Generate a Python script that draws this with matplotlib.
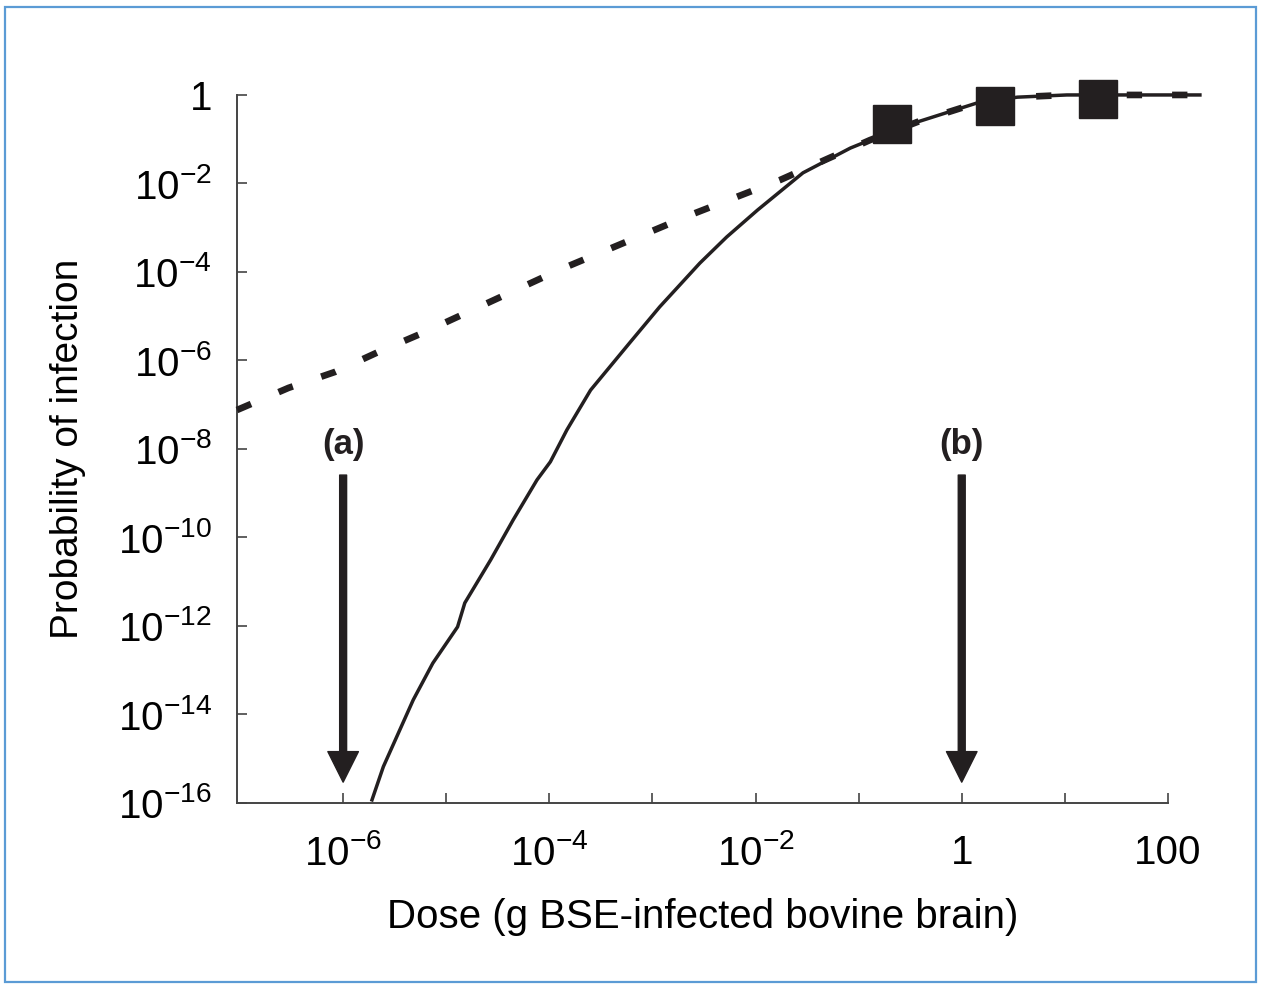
import numpy as np
import matplotlib
matplotlib.use("Agg")
import matplotlib.pyplot as plt
from matplotlib.patches import Rectangle

plt.rcParams['font.family'] = ['Liberation Sans', 'DejaVu Sans']
plt.rcParams['mathtext.fontset'] = 'custom'
plt.rcParams['mathtext.rm'] = 'Liberation Sans'
plt.rcParams['mathtext.it'] = 'Liberation Sans:italic'
plt.rcParams['mathtext.bf'] = 'Liberation Sans:bold'

# solid curve, log10 dose vs log10 probability
solid_logx = [-5.72, -5.61, -5.32, -5.13, -4.89, -4.82, -4.57, -4.35, -4.12, -3.99,
              -3.83, -3.60, -3.22, -2.93, -2.54, -2.28, -1.98, -1.54, -1.08, -0.89,
              -0.43, 0.15, 0.54, 1.02, 2.31]
solid_logy = [-15.93, -15.18, -13.67, -12.84, -12.02, -11.48, -10.51, -9.60, -8.70, -8.29,
              -7.57, -6.67, -5.60, -4.79, -3.80, -3.21, -2.60, -1.76, -1.20, -1.02,
              -0.61, -0.18, -0.05, 0.0, 0.0]

# dashed curve
dashed_logx = [-7.03, -6.53, -6.08, -5.66, -5.23, -3.90, -2.63, -1.76, -1.28, -0.89,
               -0.43, 0.15, 0.54, 1.02, 2.20]
dashed_logy = [-7.12, -6.62, -6.26, -5.81, -5.38, -3.95, -2.71, -1.92, -1.42, -1.02,
               -0.61, -0.18, -0.05, 0.0, 0.0]

# observed points (squares)
obs_dose = [0.21, 2.1, 21.0]
obs_prob = [0.22, 0.56, 0.81]

# arrows (a) and (b)
arrow_dose = [1e-6, 1.0]
arrow_labels = ['(a)', '(b)']

xtick_vals = [1e-6, 1e-5, 1e-4, 1e-3, 1e-2, 1e-1, 1, 10, 100]
xtick_labels = [r'$10^{-6}$', '', r'$10^{-4}$', '', r'$10^{-2}$', '', '1', '', '100']
ytick_vals = [1, 1e-2, 1e-4, 1e-6, 1e-8, 1e-10, 1e-12, 1e-14, 1e-16]
ytick_labels = ['1', r'$10^{-2}$', r'$10^{-4}$', r'$10^{-6}$', r'$10^{-8}$',
                r'$10^{-10}$', r'$10^{-12}$', r'$10^{-14}$', r'$10^{-16}$']

ink = '#231f20'
axis_col = '#444444'

fig = plt.figure(figsize=(12.61, 9.85), dpi=100)
ax = fig.add_axes([0.1879, 0.1848, 0.7383, 0.7188])

ax.plot(10 ** np.array(solid_logx), 10 ** np.array(solid_logy),
        color=ink, lw=2.5, clip_on=False, zorder=3)
ax.plot(10 ** np.array(dashed_logx), 10 ** np.array(dashed_logy),
        color=ink, lw=4.8, dashes=(2.3, 4.5), dash_capstyle='butt',
        clip_on=False, zorder=3)
ax.plot(obs_dose, obs_prob, 's', color=ink, markersize=28, clip_on=False, zorder=4)

for xd, lab in zip(arrow_dose, arrow_labels):
    ax.annotate('', xy=(xd, 10 ** -15.53), xytext=(xd, 10 ** -8.59),
                arrowprops=dict(width=5, headwidth=22, headlength=22,
                                facecolor=ink, edgecolor=ink))
    ax.text(xd, 10 ** -7.91, lab, ha='center', va='center',
            fontsize=25, fontweight='bold', color=ink)

ax.set_xscale('log')
ax.set_yscale('log')
ax.set_xlim(10 ** -7.03, 10 ** 2.0)
ax.set_ylim(1e-16, 1)

ax.set_xticks(xtick_vals)
ax.set_xticklabels(xtick_labels)
ax.set_yticks(ytick_vals)
ax.set_yticklabels(ytick_labels)
ax.minorticks_off()
ax.tick_params(direction='in', length=7, width=1.2, color=axis_col,
               labelsize=29, labelcolor='black')
ax.tick_params(axis='x', pad=22)
ax.tick_params(axis='y', pad=18)

for s in ['top', 'right']:
    ax.spines[s].set_visible(False)
for s in ['left', 'bottom']:
    ax.spines[s].set_color(axis_col)
    ax.spines[s].set_linewidth(1.4)

ax.set_xlabel('Dose (g BSE-infected bovine brain)', fontsize=29, labelpad=18)
ax.set_ylabel('Probability of infection', fontsize=28, labelpad=23)

# light blue frame round the figure
fig.patches.append(Rectangle((0.004, 0.003), 0.992, 0.99, transform=fig.transFigure,
                             fill=False, edgecolor='#5b9bd5', lw=1.6))

fig.savefig('out.png', dpi=100)
